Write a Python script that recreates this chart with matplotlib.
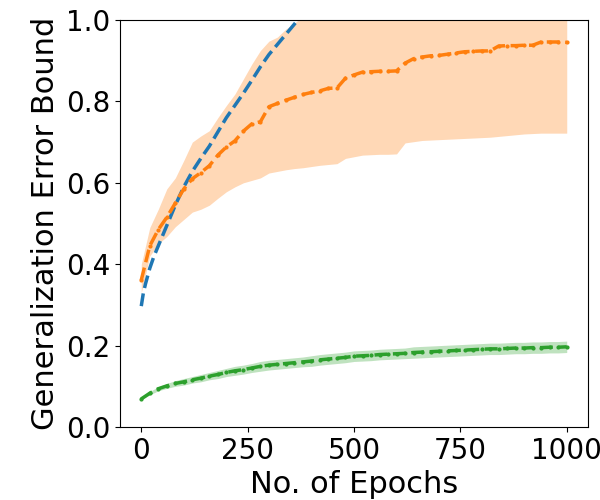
import numpy as np
import matplotlib
matplotlib.use("Agg")
import matplotlib.pyplot as plt

epochs = np.arange(0, 1001, 20)

# blue curve (only the visible part, leaves the axes above 1.0)
blue_epochs = [0, 5, 10, 20, 30, 40, 60, 80, 100, 120, 140, 160, 180, 200,
               220, 240, 260, 280, 300, 320, 340, 360, 380, 400]
blue = [0.297, 0.33, 0.352, 0.39, 0.42, 0.445, 0.495, 0.545, 0.59, 0.628,
        0.66, 0.69, 0.725, 0.76, 0.79, 0.82, 0.852, 0.885, 0.915, 0.94,
        0.965, 0.99, 1.015, 1.04]

orange = [0.361, 0.445, 0.485, 0.515, 0.550, 0.585, 0.610, 0.625, 0.642, 0.668,
          0.688, 0.703, 0.727, 0.745, 0.750, 0.787, 0.795, 0.803, 0.810, 0.817,
          0.822, 0.826, 0.832, 0.833, 0.857, 0.865, 0.872, 0.873, 0.874, 0.874,
          0.875, 0.894, 0.905, 0.909, 0.912, 0.913, 0.916, 0.919, 0.922, 0.923,
          0.924, 0.924, 0.936, 0.937, 0.937, 0.938, 0.938, 0.946, 0.946, 0.946,
          0.945]
orange_lo = [0.33, 0.42, 0.45, 0.468, 0.492, 0.51, 0.528, 0.535, 0.545, 0.562,
             0.578, 0.590, 0.600, 0.606, 0.612, 0.624, 0.628, 0.632, 0.635, 0.637,
             0.640, 0.643, 0.645, 0.647, 0.660, 0.664, 0.668, 0.669, 0.670, 0.670,
             0.671, 0.698, 0.701, 0.704, 0.705, 0.706, 0.707, 0.708, 0.709, 0.710,
             0.711, 0.712, 0.714, 0.716, 0.718, 0.720, 0.721, 0.722, 0.722, 0.722,
             0.722]
orange_hi = [0.40, 0.49, 0.535, 0.585, 0.612, 0.655, 0.70, 0.715, 0.728, 0.760,
             0.790, 0.818, 0.855, 0.892, 0.925, 0.948, 0.958, 0.978, 0.992, 1.01,
             1.02, 1.03, 1.04, 1.05, 1.06, 1.07, 1.08, 1.08, 1.09, 1.09,
             1.10, 1.10, 1.11, 1.11, 1.12, 1.12, 1.12, 1.13, 1.13, 1.14,
             1.14, 1.14, 1.15, 1.15, 1.15, 1.16, 1.16, 1.16, 1.17, 1.17,
             1.17]

green = [0.069, 0.083, 0.094, 0.101, 0.107, 0.111, 0.116, 0.120, 0.125, 0.129,
         0.134, 0.138, 0.141, 0.145, 0.149, 0.152, 0.154, 0.156, 0.158, 0.160,
         0.162, 0.165, 0.167, 0.169, 0.171, 0.174, 0.175, 0.176, 0.178, 0.179,
         0.180, 0.181, 0.183, 0.184, 0.185, 0.186, 0.187, 0.188, 0.189, 0.190,
         0.191, 0.192, 0.192, 0.193, 0.194, 0.194, 0.195, 0.195, 0.196, 0.196,
         0.197]
green_std = [0.002, 0.004, 0.005, 0.006, 0.007, 0.008, 0.008, 0.009, 0.009, 0.010,
             0.010, 0.011, 0.011, 0.011, 0.012, 0.012, 0.012, 0.012, 0.012, 0.012,
             0.013, 0.013, 0.013, 0.013, 0.013, 0.013, 0.013, 0.013, 0.013, 0.013,
             0.013, 0.013, 0.014, 0.014, 0.014, 0.014, 0.014, 0.014, 0.014, 0.014,
             0.014, 0.014, 0.014, 0.014, 0.014, 0.014, 0.014, 0.014, 0.014, 0.014,
             0.014]

plt.rcParams['font.size'] = 20
fig, ax = plt.subplots(figsize=(6, 5), dpi=100)
fig.subplots_adjust(left=0.2, right=0.98, bottom=0.146, top=0.96)

green = np.array(green)
green_std = np.array(green_std)

ax.plot(blue_epochs, blue, '--', color='C0', linewidth=2.5)

ax.fill_between(epochs, orange_lo, orange_hi, color='C1', alpha=0.3, linewidth=0)
ax.plot(epochs, orange, '--', color='C1', linewidth=2.5, marker='.', markersize=4)

ax.fill_between(epochs, green - green_std, green + green_std, color='C2', alpha=0.3, linewidth=0)
ax.plot(epochs, green, '--', color='C2', linewidth=2.5, marker='.', markersize=4)

ax.set_ylim(0, 1)
ax.set_xticks([0, 250, 500, 750, 1000])
ax.set_xlabel("No. of Epochs", fontsize=22)
ax.set_ylabel("Generalization Error Bound", fontsize=22)

fig.savefig("out.png")
